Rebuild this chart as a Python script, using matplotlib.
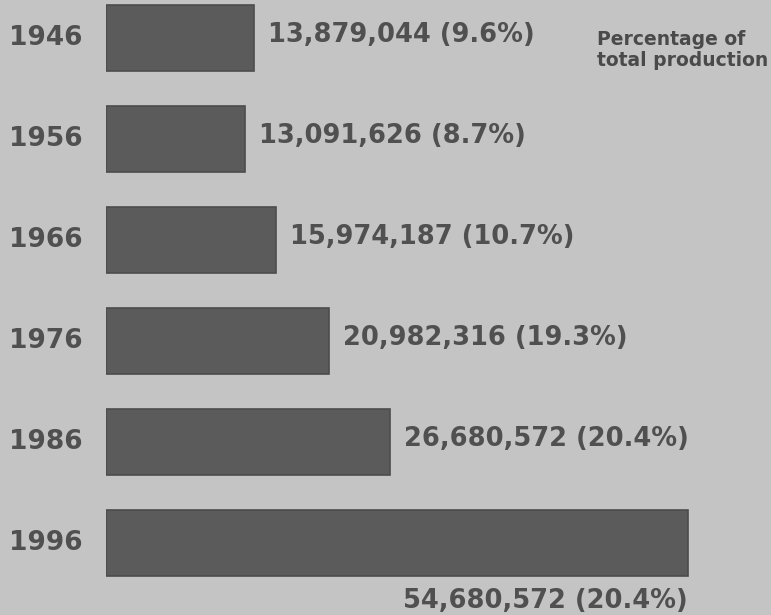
import matplotlib
matplotlib.use("Agg")
import matplotlib.pyplot as plt

# 数据
years = ['1946', '1956', '1966', '1976', '1986', '1996']
production = [13879044, 13091626, 15974187, 20982316, 26680572, 54680572]
percent = [9.6, 8.7, 10.7, 19.3, 20.4, 20.4]

bg = '#c4c4c4'
bar_color = '#5b5b5b'
text_color = '#505050'

fig = plt.figure(figsize=(7.71, 6.15), dpi=100, facecolor=bg)
# 坐标轴从第一根柱子的起点开始
ax = fig.add_axes([106 / 771, 0, 638.4 / 771, 1])
ax.set_facecolor(bg)

vals = [v / 1e6 for v in production]
ypos = list(range(len(years)))
ax.barh(ypos, vals, height=0.645, color=bar_color, edgecolor='#4c4c4c', linewidth=1.2)

ax.set_xlim(0, 60)
ax.set_ylim(5.713, -0.376)
ax.axis('off')

for i, (yr, v, p, raw) in enumerate(zip(years, vals, percent, production)):
    ax.annotate(yr, (0, i), xytext=(-17, 0), textcoords='offset points',
                ha='right', va='center', fontsize=19, fontweight='bold',
                color=text_color, annotation_clip=False)
    label = f'{raw:,} ({p}%)'
    if i == len(years) - 1:
        # 最后一根柱子的标签放在下方
        ax.annotate(label, (v, i + 0.32), xytext=(0, -9), textcoords='offset points',
                    ha='right', va='top', fontsize=18.5, fontweight='bold',
                    color=text_color, annotation_clip=False)
    else:
        ax.annotate(label, (v, i), xytext=(10, 2), textcoords='offset points',
                    ha='left', va='center', fontsize=18.5, fontweight='bold',
                    color=text_color, annotation_clip=False)

fig.text(597 / 771, 1 - 30 / 615, 'Percentage of\ntotal production', ha='left', va='top',
         fontsize=13.5, fontweight='bold', color='#4a4a4a', linespacing=1.12)

fig.savefig('out.png', dpi=100, facecolor=bg)
